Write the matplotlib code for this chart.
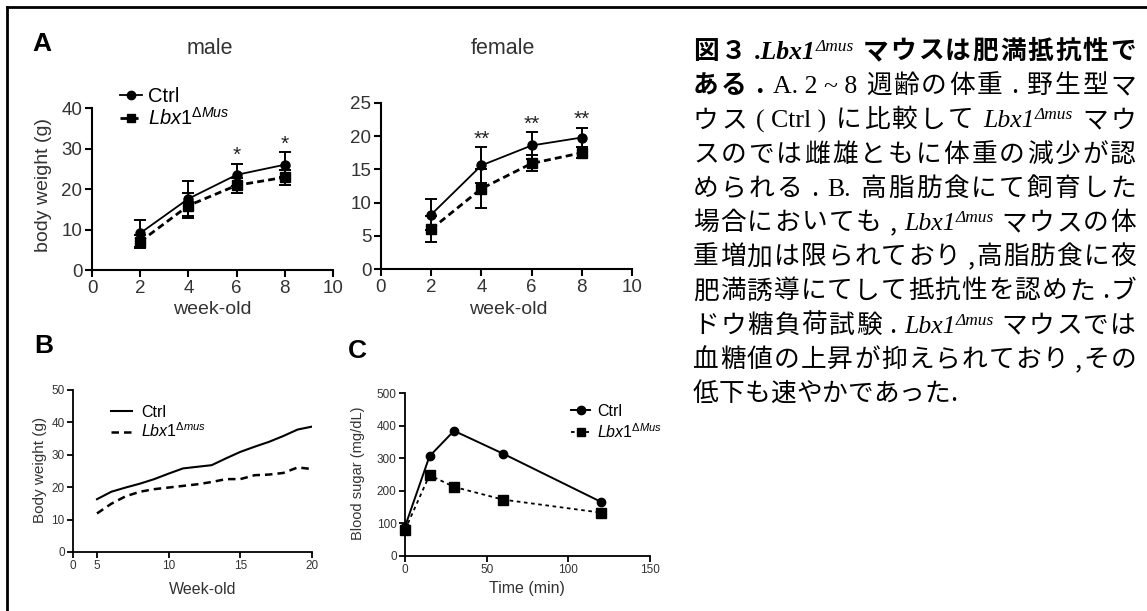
import matplotlib
matplotlib.use('Agg')
import matplotlib.pyplot as plt
from matplotlib.lines import Line2D

plt.rcParams['font.family'] = ['Liberation Sans', 'DejaVu Sans']
plt.rcParams['mathtext.fontset'] = 'custom'
plt.rcParams['mathtext.rm'] = 'Liberation Sans'
plt.rcParams['mathtext.it'] = 'Liberation Sans:italic'

W, H = 1147, 611

# A: body weight at 2-8 weeks (mean, error)
weeks_a = [2, 4, 6, 8]
male_ctrl = [9.1, 17.6, 23.5, 26.0]
male_ctrl_err = [3.3, 4.3, 2.7, 3.1]
male_mus = [7.0, 15.9, 20.9, 22.9]
male_mus_err = [1.6, 3.1, 1.9, 1.8]
male_sig = ['', '', '*', '*']
female_ctrl = [8.2, 15.6, 18.6, 19.8]
female_ctrl_err = [2.4, 2.7, 2.0, 1.5]
female_mus = [6.0, 12.1, 15.9, 17.5]
female_mus_err = [2.0, 2.9, 1.2, 0.8]
female_sig = ['', '**', '**', '**']

# B: body weight on high-fat diet
weeks_b = list(range(5, 21))
hfd_ctrl = [16.3, 18.6, 19.9, 21.1, 22.5, 24.2, 25.8, 26.3, 26.8, 28.9,
            30.9, 32.5, 34.0, 35.8, 37.8, 38.7]
hfd_mus = [11.9, 14.9, 17.2, 18.6, 19.4, 19.9, 20.4, 20.9, 21.6, 22.5,
           22.5, 23.7, 23.9, 24.4, 26.1, 25.6]

# C: glucose tolerance test
time_c = [0, 15, 30, 60, 120]
gtt_ctrl = [90, 306, 384, 314, 166]
gtt_mus = [80, 248, 212, 173, 133]

lbl_ctrl = 'Ctrl'
lbl_mus_A = r'$\mathit{Lbx1}^{\mathit{\Delta Mus}}$'
lbl_mus_B = r'$\mathit{Lbx1}^{\mathit{\Delta mus}}$'

# caption lines: (text, style); ' ' alone = gap
caption = [
    [('図３', 'jb'), (' ', 'gap'), ('.Lbx1', 'sib'), ('Δmus', 'sup'), (' ', 'gap'),
     ('マウスは肥満抵抗性で', 'jb')],
    [('ある', 'jb'), (' ', 'gap'), ('.', 'jb'), (' ', 'gap'), ('A. 2 ~ 8', 'sr'), (' ', 'gap'),
     ('週齢の体重', 'j'), (' ', 'gap'), ('.', 'j'), (' ', 'gap'), ('野生型マ', 'j')],
    [('ウス', 'j'), (' ', 'gap'), ('( Ctrl )', 'sr'), (' ', 'gap'), ('に比較して', 'j'),
     (' ', 'gap'), ('Lbx1', 'si'), ('Δmus', 'sup'), (' ', 'gap'), ('マウ', 'j')],
    [('スのでは雌雄ともに体重の減少が認', 'j')],
    [('められる', 'j'), (' ', 'gap'), ('.', 'j'), (' ', 'gap'), ('B.', 'sr'), (' ', 'gap'),
     ('高脂肪食にて飼育した', 'j')],
    [('場合においても', 'j'), (' ', 'gap'), (',', 'j'), (' ', 'gap'), ('Lbx1', 'si'),
     ('Δmus', 'sup'), (' ', 'gap'), ('マウスの体', 'j')],
    [('重増加は限られており', 'j'), (' ', 'gap'), (',高脂肪食に夜', 'j')],
    [('肥満誘導にてして抵抗性を認めた', 'j'), (' ', 'gap'), ('.ブ', 'j')],
    [('ドウ糖負荷試験', 'j'), (' ', 'gap'), ('.', 'j'), (' ', 'gap'), ('Lbx1', 'si'),
     ('Δmus', 'sup'), (' ', 'gap'), ('マウスでは', 'j')],
    [('血糖値の上昇が抑えられており', 'j'), (' ', 'gap'), (',その', 'j')],
    [('低下も速やかであった.', 'j')],
]


def px_axes(fig, left, right, top, bottom):
    return fig.add_axes([left / W, 1 - bottom / H, (right - left) / W, (bottom - top) / H])


def style_ax(ax, size, lw, tlen):
    for s in ['top', 'right']:
        ax.spines[s].set_visible(False)
    for s in ['left', 'bottom']:
        ax.spines[s].set_linewidth(lw)
    ax.tick_params(direction='out', length=tlen, width=lw, labelsize=size,
                   labelcolor='#333333', pad=2)


def ftext(fig, x, y, s, **kw):
    return fig.text(x / W, 1 - y / H, s, **kw)


fig = plt.figure(figsize=(W / 100, H / 100), dpi=100)

# border
fig.add_artist(Line2D([7 / W, 1], [1 - 7 / H, 1 - 7 / H], transform=fig.transFigure, color='k', lw=2))
fig.add_artist(Line2D([7 / W, 7 / W], [0, 1 - 7 / H], transform=fig.transFigure, color='k', lw=2))

# ---- Panel A ----
ctrl_kw = dict(fmt='-o', color='k', ms=6.5, lw=1.3, capsize=4, elinewidth=1.4, capthick=1.4)
mus_kw = dict(fmt='s', ls=(0, (2.5, 1.5)), color='k', ms=6.5, lw=2, capsize=4, elinewidth=1.4, capthick=1.4)

panels = [
    ((92, 333, 108, 270), male_ctrl, male_ctrl_err, male_mus, male_mus_err, male_sig, 40, 10),
    ((381, 632, 103, 269), female_ctrl, female_ctrl_err, female_mus, female_mus_err, female_sig, 25, 5),
]
for box, c, ce, m, me, sig, ymax, ystep in panels:
    ax = px_axes(fig, *box)
    ax.errorbar(weeks_a, m, yerr=me, **mus_kw)
    ax.errorbar(weeks_a, c, yerr=ce, **ctrl_kw)
    for x, v, e, s in zip(weeks_a, c, ce, sig):
        if s:
            ax.annotate(s, (x, v + e), xytext=(0, -1), textcoords='offset points',
                        ha='center', va='bottom', fontsize=15, color='#222222')
    ax.set_xlim(0, 10)
    ax.set_ylim(0, ymax)
    ax.set_xticks(range(0, 11, 2))
    ax.set_yticks(range(0, ymax + 1, ystep))
    style_ax(ax, 13.5, 1.5, 5)

h_ctrl = Line2D([], [], color='k', marker='o', ms=6, lw=1.3)
h_mus = Line2D([], [], color='k', marker='s', ms=6, lw=2, ls=(0, (2.5, 1.5)))
fig.legend([h_ctrl, h_mus], [lbl_ctrl, lbl_mus_A], loc='upper left',
           bbox_to_anchor=(120 / W, 1 - 87 / H), frameon=False, fontsize=14.5,
           handlelength=1.1, handletextpad=0.3, borderpad=0, borderaxespad=0,
           labelspacing=0.05, numpoints=1)

ftext(fig, 42, 44, 'A', fontsize=19, weight='bold', ha='center', va='center')
ftext(fig, 210, 48, 'male', fontsize=15.5, color='#333333', ha='center', va='center')
ftext(fig, 503, 48, 'female', fontsize=15.5, color='#333333', ha='center', va='center')
ftext(fig, 44, 185, 'body weight (g)', fontsize=14, color='#333333', ha='center', va='center', rotation=90)
ftext(fig, 212, 309, 'week-old', fontsize=14, color='#333333', ha='center', va='center')
ftext(fig, 508, 309, 'week-old', fontsize=14, color='#333333', ha='center', va='center')

# ---- Panel B ----
axb = px_axes(fig, 73, 312, 390, 552)
axb.plot(weeks_b, hfd_ctrl, color='k', lw=1.5)
axb.plot(weeks_b, hfd_mus, color='k', lw=1.8, ls=(0, (3, 2)))
x0b = 5 - (5 / 71.7) * 24
axb.set_xlim(x0b, 20)
axb.set_ylim(0, 50)
axb.set_xticks([x0b, 5, 10, 15, 20])
axb.set_xticklabels(['0', '5', '10', '15', '20'])
axb.set_yticks(range(0, 51, 10))
style_ax(axb, 8.5, 1.3, 4)
axb.legend([Line2D([], [], color='k', lw=1.5), Line2D([], [], color='k', lw=1.8, ls=(0, (3, 2)))],
           [lbl_ctrl, lbl_mus_B], loc='upper left',
           bbox_to_anchor=((111 - 73) / (312 - 73), 1 - (405 - 390) / (552 - 390)),
           frameon=False, fontsize=11.5, handlelength=1.3, handletextpad=0.6,
           borderpad=0, borderaxespad=0, labelspacing=0.1)
ftext(fig, 44, 346, 'B', fontsize=19, weight='bold', ha='center', va='center')
ftext(fig, 40, 470, 'Body weight (g)', fontsize=11, color='#333333', ha='center', va='center', rotation=90)
ftext(fig, 203, 589, 'Week-old', fontsize=11.5, color='#333333', ha='center', va='center')

# ---- Panel C ----
axc = px_axes(fig, 405, 650, 393, 556)
axc.plot(time_c, gtt_mus, color='k', lw=1.3, ls=(0, (2, 2)), marker='s', ms=6.5, clip_on=False)
axc.plot(time_c, gtt_ctrl, color='k', lw=1.4, marker='o', ms=6, clip_on=False)
axc.set_xlim(0, 150)
axc.set_ylim(0, 500)
axc.set_xticks(range(0, 151, 50))
axc.set_yticks(range(0, 501, 100))
style_ax(axc, 8.5, 1.3, 4)
axc.legend([Line2D([], [], color='k', lw=1.4, marker='o', ms=6),
            Line2D([], [], color='k', lw=1.3, ls=(0, (2, 2)), marker='s', ms=6)],
           [lbl_ctrl, lbl_mus_A], loc='upper left',
           bbox_to_anchor=((571 - 405) / (650 - 405), 1 - (404 - 393) / (556 - 393)),
           frameon=False, fontsize=11.5, handlelength=1.2, handletextpad=0.45,
           borderpad=0, borderaxespad=0, labelspacing=0.2, numpoints=1)
ftext(fig, 357, 351, 'C', fontsize=19, weight='bold', ha='center', va='center')
ftext(fig, 358, 473, 'Blood sugar (mg/dL)', fontsize=10.5, color='#333333', ha='center', va='center', rotation=90)
ftext(fig, 527, 589, 'Time (min)', fontsize=11.5, color='#333333', ha='center', va='center')

# ---- Caption text, justified ----
fs = 18.5
styles = {
    'jb': dict(family=['Noto Sans CJK JP', 'DejaVu Sans'], weight='bold', size=fs),
    'j': dict(family=['Noto Sans CJK JP', 'DejaVu Sans'], size=fs),
    'sr': dict(family=['Liberation Serif', 'DejaVu Serif'], size=fs),
    'si': dict(family=['Liberation Serif', 'DejaVu Serif'], style='italic', size=fs),
    'sib': dict(family=['Liberation Serif', 'DejaVu Serif'], style='italic', weight='bold', size=fs),
    'sup': dict(family=['Liberation Serif', 'DejaVu Serif'], style='italic', size=12.5),
}
renderer = fig.canvas.get_renderer()


def text_width(s, st):
    t = fig.text(0, 0, s, **styles[st])
    w = t.get_window_extent(renderer).width
    t.remove()
    return w


x_left, x_right = 693, 1136
line_y0, line_dy = 50, 34.2
gap_w = 5
for i, line in enumerate(caption):
    units = []
    for s, st in line:
        if st == 'gap':
            units.append(('', st, gap_w))
        elif st == 'sup':
            units.append((s, st, text_width(s, st)))
        elif st.startswith('j'):
            for ch in s:
                units.append((ch, st, text_width(ch, st)))
        else:
            units.append((s, st, text_width(s, st)))
    natural = sum(u[2] for u in units)
    breaks = sum(1 for k, u in enumerate(units) if k > 0 and u[1] != 'sup')
    extra = (x_right - x_left - natural) / breaks if i < len(caption) - 1 else 0
    x = x_left
    base = line_y0 + i * line_dy + 9
    for k, (s, st, w) in enumerate(units):
        if k > 0 and st != 'sup':
            x += extra
        if s:
            yy = base - 8 if st == 'sup' else base
            ftext(fig, x, yy, s, ha='left', va='baseline', color='k', **styles[st])
        x += w

fig.savefig('out.png', dpi=100)
